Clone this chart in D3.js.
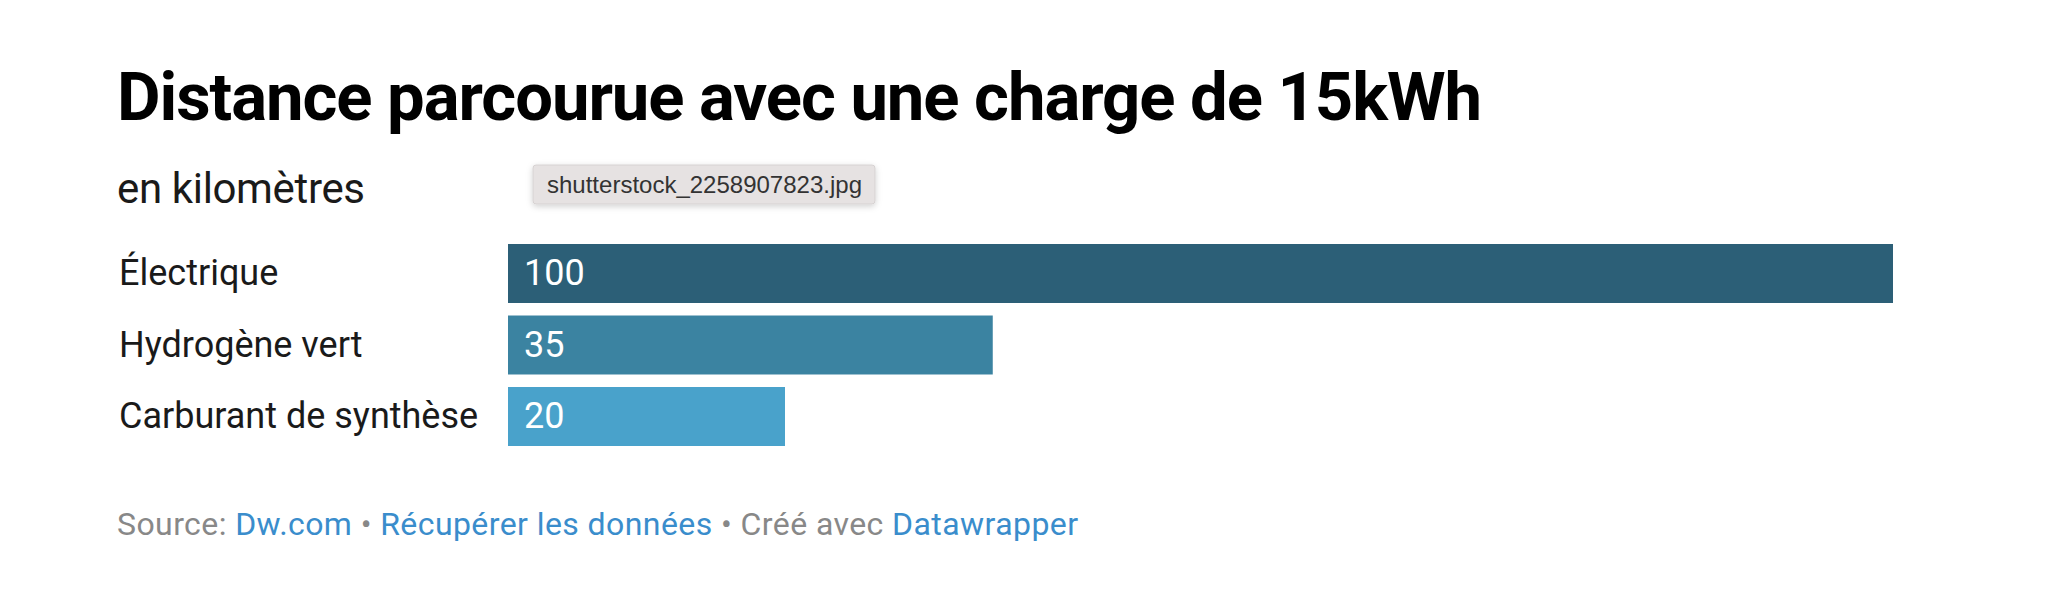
<!DOCTYPE html>
<html>
<head>
<meta charset="utf-8">
<script src="https://cdn.jsdelivr.net/npm/d3@7"></script>
<style>
  html, body { margin: 0; padding: 0; background: #ffffff; }
  svg { display: block; }
</style>
</head>
<body>
<script>
const categories = ["Électrique", "Hydrogène vert", "Carburant de synthèse"];
const values = [100, 35, 20];
const barColors = ["#2c5f77", "#3b83a1", "#49a2cb"];
const titleText = "Distance parcourue avec une charge de 15kWh";
const subtitleText = "en kilomètres";
const footerParts = [
  {t: "Source: ", link: false},
  {t: "Dw.com", link: true},
  {t: " • ", link: false},
  {t: "Récupérer les données", link: true},
  {t: " • Créé avec ", link: false},
  {t: "Datawrapper", link: true}
];
const tooltipText = "shutterstock_2258907823.jpg";

const W = 2048, H = 613;
const svg = d3.select("body").append("svg").attr("width", W).attr("height", H);
const font = "Roboto, 'Noto Sans', sans-serif";

svg.append("text")
  .attr("x", 117).attr("y", 120)
  .attr("font-family", font).attr("font-weight", 700).attr("font-size", 67)
  .attr("textLength", 1365).attr("lengthAdjust", "spacing")
  .attr("fill", "#000")
  .text(titleText);

svg.append("text")
  .attr("x", 117).attr("y", 203)
  .attr("font-family", font).attr("font-weight", 400).attr("font-size", 42)
  .attr("textLength", 248).attr("lengthAdjust", "spacing")
  .attr("fill", "#1a1a1a")
  .text(subtitleText);

const x = d3.scaleLinear().domain([0, 100]).range([508, 1893]);
const y = d3.scaleBand().domain(categories).range([237.75, 452.25]).paddingInner(0.175).paddingOuter(0.0875);

const rows = svg.append("g").selectAll("g").data(categories).join("g");

rows.append("rect")
  .attr("x", x(0))
  .attr("y", d => y(d))
  .attr("width", (d, i) => x(values[i]) - x(0))
  .attr("height", y.bandwidth())
  .attr("fill", (d, i) => barColors[i]);

rows.append("text")
  .attr("x", 119)
  .attr("y", d => y(d) + y.bandwidth() / 2)
  .attr("dy", "0.32em")
  .attr("font-family", font).attr("font-size", 36)
  .attr("fill", "#1a1a1a")
  .text(d => d);

rows.append("text")
  .attr("x", x(0) + 16)
  .attr("y", d => y(d) + y.bandwidth() / 2)
  .attr("dy", "0.32em")
  .attr("font-family", font).attr("font-size", 36)
  .attr("fill", "#ffffff")
  .text((d, i) => values[i]);

const foot = svg.append("text")
  .attr("x", 117).attr("y", 535)
  .attr("font-family", font).attr("font-size", 32)
  .attr("textLength", 961).attr("lengthAdjust", "spacing");
foot.selectAll("tspan").data(footerParts).join("tspan")
  .attr("fill", d => d.link ? "#3a8dcc" : "#888888")
  .style("white-space", "pre")
  .text(d => d.t);

// tooltip overlay
const defs = svg.append("defs");
const f = defs.append("filter").attr("id", "sh").attr("x", "-10%").attr("y", "-30%").attr("width", "120%").attr("height", "180%");
f.append("feDropShadow").attr("dx", 0).attr("dy", 2).attr("stdDeviation", 3).attr("flood-color", "#000").attr("flood-opacity", 0.18);
const tip = svg.append("g");
tip.append("rect")
  .attr("x", 533).attr("y", 165).attr("width", 342).attr("height", 39).attr("rx", 3)
  .attr("fill", "#e6e2e2").attr("stroke", "#d6d2d2").attr("stroke-width", 1)
  .attr("filter", "url(#sh)");
tip.append("text")
  .attr("x", 547).attr("y", 193)
  .attr("font-family", "'Liberation Sans', Arial, sans-serif").attr("font-size", 24)
  .attr("textLength", 315).attr("lengthAdjust", "spacing")
  .attr("fill", "#333333")
  .text(tooltipText);
</script>
</body>
</html>
